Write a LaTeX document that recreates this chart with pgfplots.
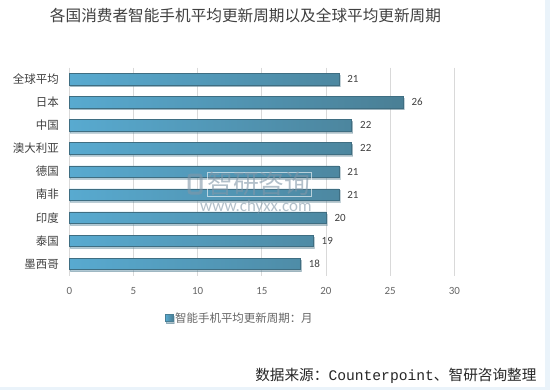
\documentclass[border=0pt]{standalone}
\usepackage{fontspec}
\setmainfont{Carlito}
\newfontfamily\cjk{Noto Sans CJK SC}
\newfontfamily\mono{Liberation Mono}
\usepackage{pgfplots}
\pgfplotsset{compat=1.18}
\usetikzlibrary{shadows}
\definecolor{barL}{HTML}{58AAD0}
\definecolor{barR}{HTML}{4A7F95}
\definecolor{barE}{HTML}{3F6E82}
\definecolor{gridc}{HTML}{D9D9D9}
\definecolor{txt}{HTML}{404040}
\definecolor{tick}{HTML}{666666}
\definecolor{frame}{HTML}{EAF3FA}
\definecolor{wm}{HTML}{8197A8}
\pgfplotstableread{
y v
0 21
1 26
2 22
3 22
4 21
5 21
6 20
7 19
8 18
}\datatable
\begin{document}
\begin{tikzpicture}[x=1bp,y=1bp]
\fill[white] (0,0) rectangle (550,390);
\fill[frame] (545,0) rectangle (550,390);
\fill[frame] (0,0) rectangle (550,3.5);
\node[text=txt, font=\cjk\fontsize{15.7}{16}\selectfont] at (245.5,374) {各国消费者智能手机平均更新周期以及全球平均更新周期};
\begin{axis}[
  at={(69.3bp,114.5bp)}, anchor=south west,
  scale only axis, width=385bp, height=208bp,
  xmin=0, xmax=30, ymin=-0.5, ymax=8.5,
  y dir=reverse,
  xtick={0,5,...,30},
  ytick=data,
  yticklabels={全球平均,日本,中国,澳大利亚,德国,南非,印度,泰国,墨西哥},
  xmajorgrids, grid style={gridc, line width=0.75bp},
  axis line style={draw=none},
  major tick length=0pt,
  xticklabel style={font=\fontsize{11}{11}\selectfont, text=tick, anchor=center, yshift=-15.2bp},
  yticklabel style={font=\cjk\fontsize{11.5}{12}\selectfont, text=txt, anchor=east, xshift=-7bp},
  /pgf/number format/assume math mode=true,
  xbar, bar width=11.5bp,
  nodes near coords,
  every node near coord/.append style={font=\fontsize{11}{11}\selectfont, text=txt, anchor=west, xshift=5bp},
  legend style={at={(0.2486,-0.204)}, anchor=west, draw=none, fill=none, inner sep=0pt,
    font=\cjk\fontsize{11.5}{12}\selectfont, text=tick},
  legend image code/.code={\fill[barR] (0bp,-3.8bp) rectangle (7.5bp,3.8bp);},
  clip=false,
]
\addplot[xbar, draw=barE, line width=0.5bp, left color=barL, right color=barR,
  drop shadow={shadow xshift=1bp, shadow yshift=-1.8bp, opacity=0.3}]
  table[x=v, y=y] {\datatable};
\addlegendentry{智能手机平均更新周期：月}
\end{axis}
\begin{scope}[opacity=0.6]
\node[text=wm, draw=white, line width=0.3bp, font=\cjk\fontsize{26}{26}\selectfont, anchor=west, inner sep=0pt] at (207,206) {智研咨询};
\node[text=wm, font=\fontsize{17}{17}\selectfont, anchor=west, inner sep=0pt] at (200,183) {www.chyxx.com};
\draw[wm, line width=3bp, rounded corners=2bp] (189,197) rectangle (201,215);
\end{scope}
\node[text=black!85, anchor=east, font=\cjk\fontsize{14.7}{15}\selectfont] at (540,14.3) {数据来源：{\mono Counterpoint}、智研咨询整理};
\end{tikzpicture}
\end{document}
